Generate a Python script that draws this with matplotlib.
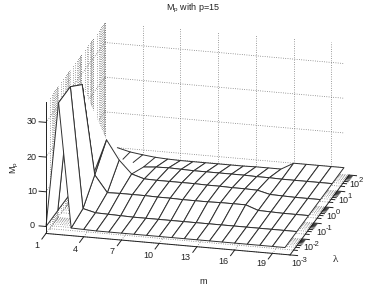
import numpy as np
import matplotlib
matplotlib.use('Agg')
import matplotlib.pyplot as plt
from mpl_toolkits.mplot3d import proj3d
from mpl_toolkits.mplot3d.art3d import Poly3DCollection

plt.rcParams['font.family'] = ['Liberation Sans', 'DejaVu Sans']
plt.rcParams['mathtext.fontset'] = 'custom'
plt.rcParams['mathtext.rm'] = 'Liberation Sans'
plt.rcParams['mathtext.default'] = 'regular'

nan = np.nan
m_values = list(range(1, 21))
lambda_exponents = [-3, -2, -1, 0, 1, 2]
m_ticks = [1, 4, 7, 10, 13, 16, 19]
z_ticks = [0, 10, 20, 30]

z_l3 = [0, 36, 0.2, 0.1, 0, 0, 0, 0, 0, 0, 0, 0, 0, 0, 0, 0, 0, 0, 0, 0]
z_l2 = [0, 36, 1.2, 0.3, 0.2, 0.1, 0, 0, 0, 0, 0, 0, 0, 0, 0, 0, 0, 0, 0, 0]
z_l1 = [0, 32, 6.3, 1.5, 1.6, 1.6, 1.6, 1.5, 1.5, 1.4, 1.4, 1.4, 1.5, 1.5, 1.5, 0.2, 0.1, 0, 0, 0]
z_0 = [0, 2, 11.8, 6.3, 2.6, 1.5, 1.4, 1.4, 1.4, 1.4, 1.3, 1.3, 1.2, 1.2, 1.1, 0.2, 0.1, 0, 0, 0]
z_p1 = [nan, nan, nan, nan, 0, 0.3, 0.4, 0.3, 0.2, 0.2, 0.2, 0.2, 0.2, 0.1, 0.1, 0, 0, 0, 0, 0]
z_p2 = [nan, nan, nan, nan, -1.8, -2, -2.1, -2.1, -2.1, -2.1, -2.1, -2.1, -2, -2, -2, 0, 0, 0, 0, 0]
Z = np.array([z_l3, z_l2, z_l1, z_0, z_p1, z_p2])

back_m = [2, 3, 4, 5]
back_z = [0, -0.9, -1.4, -1.8]
stub_m = [3, 4]
stub_end_l = [4.4, 4.2]
stub_end_z = [-0.2, 0.1]

W, H = 367, 288
fig = plt.figure(figsize=(W / 100, H / 100), dpi=100)
ax = fig.add_axes([0, 0, 1, 1], projection='3d', proj_type='ortho', computed_zorder=False)
ax.set_axis_off()
ax.set_xlim(1, 20)
ax.set_ylim(0, 5)
ax.set_zlim(-2, 36)
ax.view_init(elev=20.2, azim=-75.7)
aspect = (246.6, 238.7, 140.5)
ax.set_box_aspect(aspect, zoom=1)


def px(m, l, z):
    x, y, _ = proj3d.proj_transform(m, l, z, ax.get_proj())
    return ax.transData.transform((x, y))


# place the box so that the z=0 floor corners fall where the reference has them
fig.canvas.draw()
a, b = px(1, 0, 0), px(20, 0, 0)
ax.set_box_aspect(aspect, zoom=239.0 / (b[0] - a[0]))
fig.canvas.draw()
a = px(1, 0, 0)
dx, dy = (46 - a[0]) / W, ((H - 226.5) - a[1]) / H
ax.set_position([dx, dy, 1, 1])
fig.canvas.draw()

dot = dict(color='#666666', lw=0.55, ls=(0, (1, 2)), zorder=1)
minor = [e + np.log10(k) for e in range(5) for k in range(2, 10)]
majors = list(range(6))
zlo, zhi, mfloor = -2, 36, 20.4

# back wall
for m in m_ticks:
    ax.plot([m, m], [5, 5], [zlo, zhi], **dot)
for z in z_ticks:
    ax.plot([1, 20], [5, 5], [z, z], **dot)
# left wall
for l in minor + majors:
    ax.plot([1, 1], [l, l], [zlo, zhi], **dot)
for z in z_ticks:
    ax.plot([1, 1], [0, 5], [z, z], **dot)
# floor
for l in minor + majors:
    ax.plot([1, mfloor], [l, l], [zlo, zlo], **dot)
for m in m_ticks:
    ax.plot([m, m], [0, 5], [zlo, zlo], **dot)

# white regions the reference leaves empty behind the hump
hole = [[(2, 5, 0), (5, 5, -1.8), (5, 4, 0), (5, 3, 2.6), (3, 3, 11.8)],
        [(2, 2, 32), (3, 3, 11.8), (3, 2, 6.3)],
        [(3, 3, 11.8), (3, 2, 6.3), (5, 3, 2.6)]]
ax.add_collection3d(Poly3DCollection(hole, facecolor='white', edgecolor='none', zorder=2))

# mesh
faces = []
for j in range(Z.shape[0] - 1):
    for i in range(Z.shape[1] - 1):
        cell = [Z[j, i], Z[j, i + 1], Z[j + 1, i + 1], Z[j + 1, i]]
        if np.any(np.isnan(cell)):
            continue
        faces.append([(m_values[i], j, cell[0]), (m_values[i + 1], j, cell[1]),
                      (m_values[i + 1], j + 1, cell[2]), (m_values[i], j + 1, cell[3])])
mesh = Poly3DCollection(faces, facecolor='white', edgecolor='#303030', linewidth=0.7, zorder=3)
ax.add_collection3d(mesh)
ink = dict(color='#303030', lw=0.7, zorder=3.5)
ax.plot(back_m, [5] * len(back_m), back_z, **ink)
for m, l, z in zip(stub_m, stub_end_l, stub_end_z):
    ax.plot([m, m], [5, l], [back_z[back_m.index(m)], z], **ink)

# axes
axis = dict(color='#222222', lw=0.7, zorder=4)
ax.plot([1, 1], [0, 0], [zlo, zhi], **axis)
ax.plot([1, mfloor], [0, 0], [zlo, zlo], **axis)
ax.plot([mfloor, mfloor], [0, 5], [zlo, zlo], **axis)
for z in z_ticks:
    ax.plot([1, 0.45], [0, 0], [z, z], **axis)
for m in m_ticks:
    ax.plot([m, m], [0, -0.35], [zlo, zlo], **axis)
for l in majors:
    ax.plot([mfloor, mfloor + 0.6], [l, l], [zlo, zlo], **axis)
for l in minor:
    ax.plot([mfloor, mfloor + 0.3], [l, l], [zlo, zlo], **axis)

for artist in list(ax.lines) + list(ax.collections):
    artist.set_clip_on(False)

fs = 6.5
tc = '#222222'


def label(x, y, s, **kw):
    kw.setdefault('fontsize', fs)
    kw.setdefault('ha', 'center')
    fig.text(x / W, 1 - y / H, s, va='center', color=tc, **kw)


label(193, 8, 'M$_p$ with p=15')
label(15, 168, 'M$_p$', rotation=90)
label(203, 282, 'm')
label(335, 260, 'λ', family=['Liberation Serif', 'DejaVu Serif'], fontsize=8)
for z, y in zip(z_ticks, [226, 192, 157, 122]):
    label(32, y, str(z))
for m, x, y in zip(m_ticks, [37, 75, 112, 148, 185, 223, 261],
                   [246, 249, 252, 255, 258, 261, 264]):
    label(x, y, str(m))
for e, x, y in zip(lambda_exponents, [299, 311, 324, 334, 346, 357],
                   [262, 246, 231, 215, 199, 183]):
    label(x - 3, y + 1.5, '10')
    label(x + 1.5, y - 2, str(e).replace('-', '-'), ha='left', fontsize=5.5)

fig.savefig('out.png', dpi=100)
